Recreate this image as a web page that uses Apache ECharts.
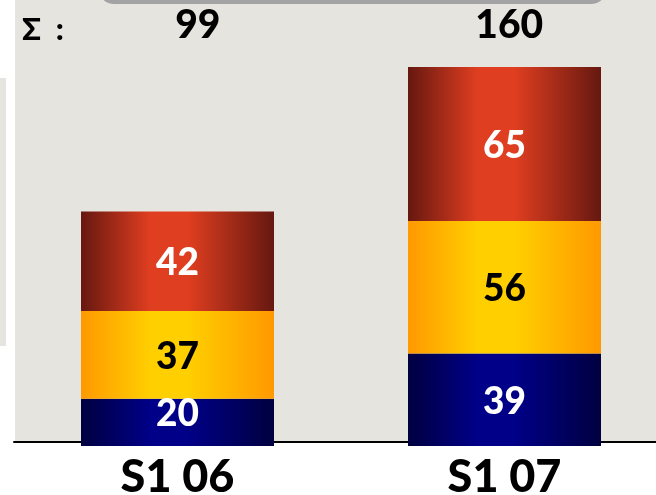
<!DOCTYPE html>
<html>
<head>
<meta charset="utf-8">
<script src="https://cdn.jsdelivr.net/npm/echarts@6/dist/echarts.min.js"></script>
<style>
  html, body { margin: 0; padding: 0; background: #fff; }
  #main { width: 656px; height: 495px; }
</style>
</head>
<body>
<div id="main"></div>
<script>
// 数据
var categories = ['S1 06', 'S1 07'];
var bottomValues = [20, 39];
var middleValues = [37, 56];
var topValues = [42, 65];
var sums = ['99', '160'];

var font = 'Lato, "DejaVu Sans", sans-serif';

function hGrad(edge, mid) {
    return new echarts.graphic.LinearGradient(0, 0, 1, 0, [
        { offset: 0, color: edge },
        { offset: 0.36, color: mid },
        { offset: 0.55, color: mid },
        { offset: 1, color: edge }
    ]);
}

function barSeries(name, values, color, labelColor, lift) {
    // 矮柱的标签稍微上移，避开坐标轴
    var items = values.map(function (v) {
        return v < 25 ? { value: v, label: { offset: [0, -lift] } } : v;
    });
    return {
        name: name,
        type: 'bar',
        stack: 'total',
        barWidth: 193,
        data: items,
        itemStyle: { color: color },
        label: {
            show: true,
            position: 'inside',
            offset: [0, 2],
            color: labelColor,
            fontFamily: font,
            fontWeight: 900,
            fontSize: 37
        }
    };
}

var myChart = echarts.init(document.getElementById('main'));

var option = {
    backgroundColor: '#fff',
    animation: false,
    grid: [
        { left: 14, width: 654, top: 67, height: 379, outerBoundsMode: 'none' },
        // 合计行
        { left: 42, width: 623, top: 67, height: 379, outerBoundsMode: 'none' }
    ],
    graphic: [
        // 背景面板
        { type: 'rect', z: -10, silent: true, shape: { x: 15, y: 0, width: 641, height: 441 }, style: { fill: '#e5e4de' } },
        { type: 'rect', z: -10, silent: true, shape: { x: 0, y: 78, width: 6, height: 268 }, style: { fill: '#e5e4de' } },
        { type: 'rect', z: -9, silent: true, shape: { x: 100, y: -40, width: 505, height: 42, r: 14 }, style: { fill: '#e5e4de', stroke: '#a3a3a3', lineWidth: 4 } },
        { type: 'text', left: 22, top: 14, style: { text: 'Σ  :', fontFamily: font, fontWeight: 900, fontSize: 31, fill: '#000' } }
    ],
    xAxis: [{
        type: 'category',
        gridIndex: 0,
        data: categories,
        offset: -4,
        axisLine: { lineStyle: { color: '#000', width: 2 } },
        axisTick: { show: false },
        axisLabel: { color: '#000', fontFamily: font, fontWeight: 900, fontSize: 45, margin: 13 }
    }, {
        type: 'category',
        gridIndex: 1,
        position: 'top',
        data: sums,
        axisLine: { show: false },
        axisTick: { show: false },
        axisLabel: { color: '#000', fontFamily: font, fontWeight: 900, fontSize: 39, margin: 22 }
    }],
    yAxis: [{
        type: 'value',
        gridIndex: 0,
        min: 0,
        max: 160,
        show: false
    }, {
        type: 'value',
        gridIndex: 1,
        min: 0,
        max: 160,
        show: false
    }],
    series: [
        barSeries('A', bottomValues, hGrad('#000040', '#000088'), '#fff', 8),
        barSeries('B', middleValues, hGrad('#ff9900', '#ffcf00'), '#000', 0),
        barSeries('C', topValues, hGrad('#661810', '#e03e20'), '#fff', 0)
    ]
};

myChart.setOption(option);
</script>
</body>
</html>
